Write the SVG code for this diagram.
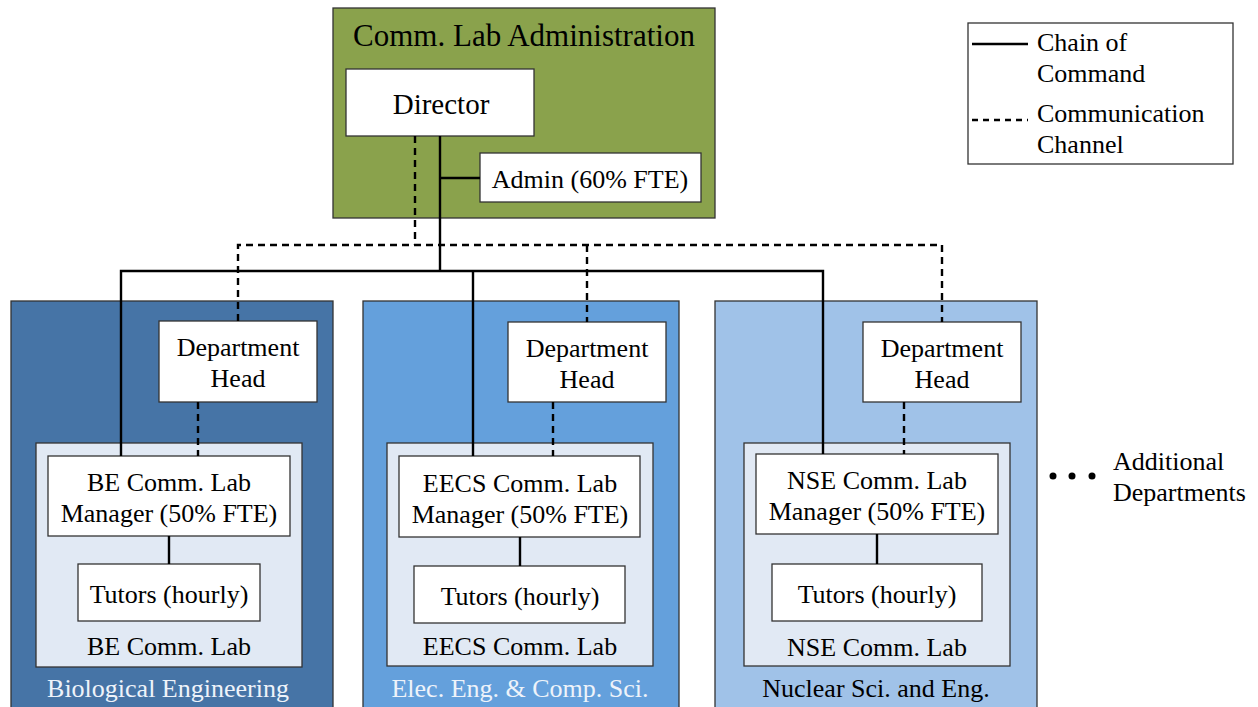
<svg xmlns="http://www.w3.org/2000/svg" width="1258" height="707" viewBox="0 0 1258 707">
<style>
text{font-family:"Liberation Serif","Times New Roman",serif;font-size:26px;fill:#000;text-anchor:middle}
.box{fill:#fff;stroke:#333;stroke-width:1.3}
.lab{fill:#e1e9f4;stroke:#333;stroke-width:1.3}
.dept{stroke:#333;stroke-width:1.3}
.solid{fill:none;stroke:#000;stroke-width:2.4}
.dash{fill:none;stroke:#000;stroke-width:2.4;stroke-dasharray:7 5}
.lt{fill:#eef3fa}
.left{text-anchor:start}
</style>
<rect width="1258" height="707" fill="#fff"/>

<g id="admin">
<rect x="333" y="8" width="382" height="210" fill="#8aa24c" stroke="#333" stroke-width="1.3"/>
<text x="524" y="46" style="font-size:31px">Comm. Lab Administration</text>
</g>
<g id="director">
<rect class="box" x="346" y="69" width="188" height="67"/>
<text x="441" y="114" style="font-size:29px">Director</text>
</g>
<g id="admin-staff">
<rect class="box" x="480" y="153" width="221" height="49"/>
<text x="590" y="188">Admin (60% FTE)</text>
</g>

<g id="be-dept">
<rect class="dept" x="11" y="301" width="322" height="410" fill="#4674a6"/>
<text class="lt" x="168" y="697">Biological Engineering</text>
</g>
<g id="be-head">
<rect class="box" x="159" y="321" width="158" height="81"/>
<text x="238" y="356">Department</text>
<text x="238" y="387">Head</text>
</g>
<g id="be-lab">
<rect class="lab" x="36" y="443" width="266" height="224"/>
<text x="169" y="655">BE Comm. Lab</text>
</g>
<g id="be-manager">
<rect class="box" x="48" y="456" width="242" height="80"/>
<text x="169" y="491">BE Comm. Lab</text>
<text x="169" y="522">Manager (50% FTE)</text>
</g>
<g id="be-tutors">
<rect class="box" x="78" y="564" width="182" height="57"/>
<text x="169" y="603">Tutors (hourly)</text>
</g>

<g id="eecs-dept">
<rect class="dept" x="363" y="301" width="316" height="410" fill="#64a0dc"/>
<text class="lt" x="520" y="697">Elec. Eng. &amp; Comp. Sci.</text>
</g>
<g id="eecs-head">
<rect class="box" x="508" y="322" width="158" height="80"/>
<text x="587" y="357">Department</text>
<text x="587" y="388">Head</text>
</g>
<g id="eecs-lab">
<rect class="lab" x="387" y="443" width="266" height="223"/>
<text x="520" y="655">EECS Comm. Lab</text>
</g>
<g id="eecs-manager">
<rect class="box" x="399" y="456" width="241" height="81"/>
<text x="520" y="492">EECS Comm. Lab</text>
<text x="520" y="523">Manager (50% FTE)</text>
</g>
<g id="eecs-tutors">
<rect class="box" x="414" y="566" width="211" height="57"/>
<text x="520" y="605">Tutors (hourly)</text>
</g>

<g id="nse-dept">
<rect class="dept" x="715" y="301" width="322" height="410" fill="#a0c2e8"/>
<text x="876" y="697">Nuclear Sci. and Eng.</text>
</g>
<g id="nse-head">
<rect class="box" x="863" y="322" width="158" height="80"/>
<text x="942" y="357">Department</text>
<text x="942" y="388">Head</text>
</g>
<g id="nse-lab">
<rect class="lab" x="744" y="443" width="266" height="223"/>
<text x="877" y="656">NSE Comm. Lab</text>
</g>
<g id="nse-manager">
<rect class="box" x="756" y="454" width="242" height="80"/>
<text x="877" y="489">NSE Comm. Lab</text>
<text x="877" y="520">Manager (50% FTE)</text>
</g>
<g id="nse-tutors">
<rect class="box" x="772" y="564" width="210" height="57"/>
<text x="877" y="603">Tutors (hourly)</text>
</g>

<g id="connectors">
<path class="solid" d="M440 136 V271 M121 456 V271 H823 V454 M473 271 V456 M440 178 H480"/>
<path class="solid" d="M169 536 V564 M520 537 V566 M877 534 V564"/>
<path class="dash" d="M415 136 V245"/>
<path class="dash" d="M238 321 V245 H942 V322"/>
<path class="dash" d="M587 245 V322"/>
<path class="dash" d="M198 402 V456 M553 402 V456 M904 402 V454"/>
</g>

<g id="additional">
<circle cx="1053" cy="476" r="3.5"/>
<circle cx="1072" cy="476" r="3.5"/>
<circle cx="1092" cy="476" r="3.5"/>
<text class="left" x="1113" y="470">Additional</text>
<text class="left" x="1113" y="501">Departments</text>
</g>

<g id="legend">
<rect x="968" y="23" width="265" height="141" fill="#fff" stroke="#333" stroke-width="1.3"/>
<path class="solid" d="M972 44 H1028"/>
<path class="dash" d="M972 120 H1028" style="stroke-dasharray:6 5"/>
<text class="left" x="1037" y="51">Chain of</text>
<text class="left" x="1037" y="82">Command</text>
<text class="left" x="1037" y="122">Communication</text>
<text class="left" x="1037" y="153">Channel</text>
</g>
</svg>
